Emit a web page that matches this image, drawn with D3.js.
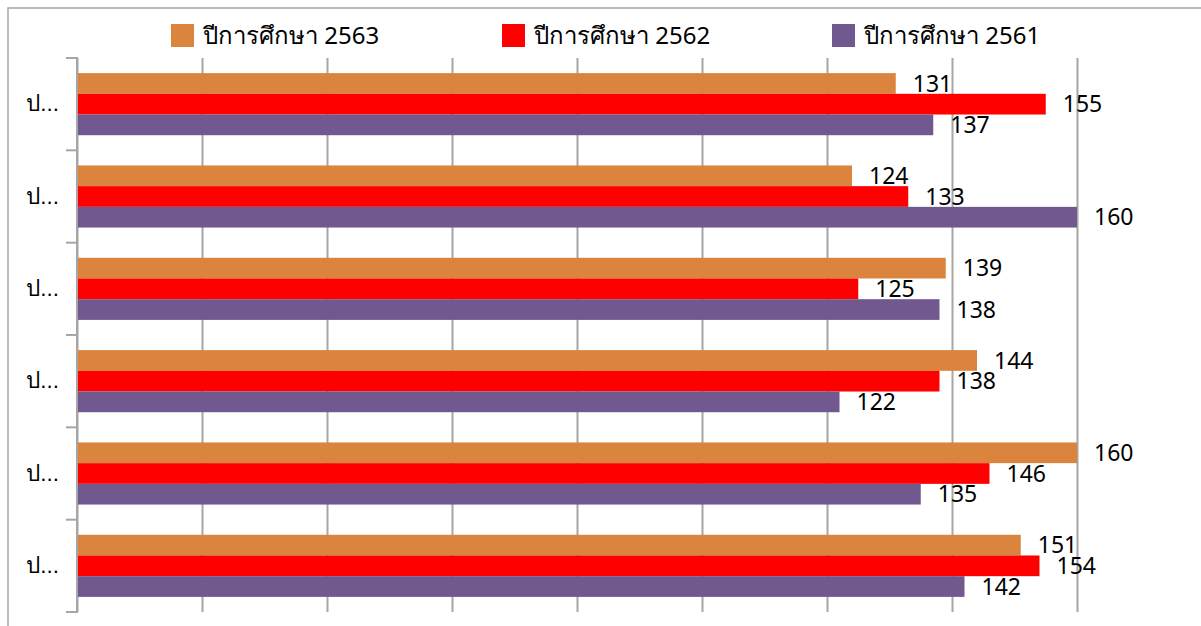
<!DOCTYPE html>
<html><head><meta charset="utf-8">
<script src="https://cdn.jsdelivr.net/npm/d3@7"></script>
<style>
html,body{margin:0;padding:0;background:#fff;}
svg{display:block;font-family:"Noto Sans","DejaVu Sans",sans-serif;}
</style></head>
<body>
<svg id="chart" width="1201" height="626"></svg>
<script>
const categories = ["ป...", "ป...", "ป...", "ป...", "ป...", "ป..."];
const seriesNames = ["ปีการศึกษา 2563", "ปีการศึกษา 2562", "ปีการศึกษา 2561"];
const seriesColors = ["#DB843D", "#FF0000", "#71588F"];
const values2563 = [131, 124, 139, 144, 160, 151];
const values2562 = [155, 133, 125, 138, 146, 154];
const values2561 = [137, 160, 138, 122, 135, 142];
const xTicks = [0, 20, 40, 60, 80, 100, 120, 140, 160];

const seriesValues = [values2563, values2562, values2561];
const svg = d3.select("#chart");

// outer frame
svg.append("rect").attr("x", 8).attr("y", 8).attr("width", 1210).attr("height", 640)
  .attr("fill", "none").attr("stroke", "#a6a6a6").attr("stroke-width", 1.5);

const x = d3.scaleLinear().domain([0, 160]).range([77, 1077]);
const y = d3.scaleBand().domain(categories.map((d, i) => i)).range([58, 612]).padding(0);
const ys = d3.scaleBand().domain(seriesNames.map((d, i) => i)).range([0, y.bandwidth()]).paddingInner(0).paddingOuter(0.73);

// grid lines (vertical)
const xAxis = d3.axisBottom(x).tickValues(xTicks).tickSize(-(612 - 58)).tickFormat("");
const gx = svg.append("g").attr("transform", "translate(0,612)").call(xAxis);
gx.select(".domain").remove();
gx.selectAll(".tick line").attr("stroke", "#a6a6a6").attr("stroke-width", 2);

// y axis
const yAxis = d3.axisLeft(y).tickSize(0).tickFormat(i => categories[i]).tickPadding(18);
const gy = svg.append("g").attr("transform", "translate(77,0)").call(yAxis);
gy.select(".domain").remove();
gy.selectAll(".tick text").attr("font-size", 22.5).attr("fill", "#000").attr("font-family", "inherit");
// category boundary ticks
const bounds = d3.range(categories.length + 1).map(i => 58 + i * y.step());
svg.append("g").selectAll("line").data(bounds).join("line")
  .attr("x1", 66).attr("x2", 77).attr("y1", d => d).attr("y2", d => d)
  .attr("stroke", "#a6a6a6").attr("stroke-width", 2);
svg.append("line").attr("x1", 77).attr("x2", 77).attr("y1", 57).attr("y2", 613)
  .attr("stroke", "#a6a6a6").attr("stroke-width", 2);

// bars
const groups = svg.append("g").selectAll("g").data(categories.map((c, i) => i)).join("g")
  .attr("transform", i => `translate(0,${y(i)})`);
groups.selectAll("rect").data(i => seriesValues.map((vals, s) => ({s, v: vals[i]}))).join("rect")
  .attr("x", x(0) + 1).attr("y", d => ys(d.s))
  .attr("width", d => x(d.v) - x(0) - 1).attr("height", ys.bandwidth())
  .attr("fill", d => seriesColors[d.s]);
groups.selectAll("text").data(i => seriesValues.map((vals, s) => ({s, v: vals[i]}))).join("text")
  .attr("x", d => x(d.v) + 17).attr("y", d => ys(d.s) + ys.bandwidth() / 2)
  .attr("dy", "0.36em").attr("font-size", 23).attr("fill", "#000")
  .text(d => d.v);

// legend
const legendX = [171, 502, 832];
const lg = svg.append("g").selectAll("g").data(seriesNames).join("g")
  .attr("transform", (d, i) => `translate(${legendX[i]},24)`);
lg.append("rect").attr("width", 23).attr("height", 23).attr("fill", (d, i) => seriesColors[i]);
lg.append("text").attr("x", 32).attr("y", 11.5).attr("dy", "0.36em")
  .attr("font-size", 24).attr("fill", "#000").text(d => d);
</script>
</body></html>
